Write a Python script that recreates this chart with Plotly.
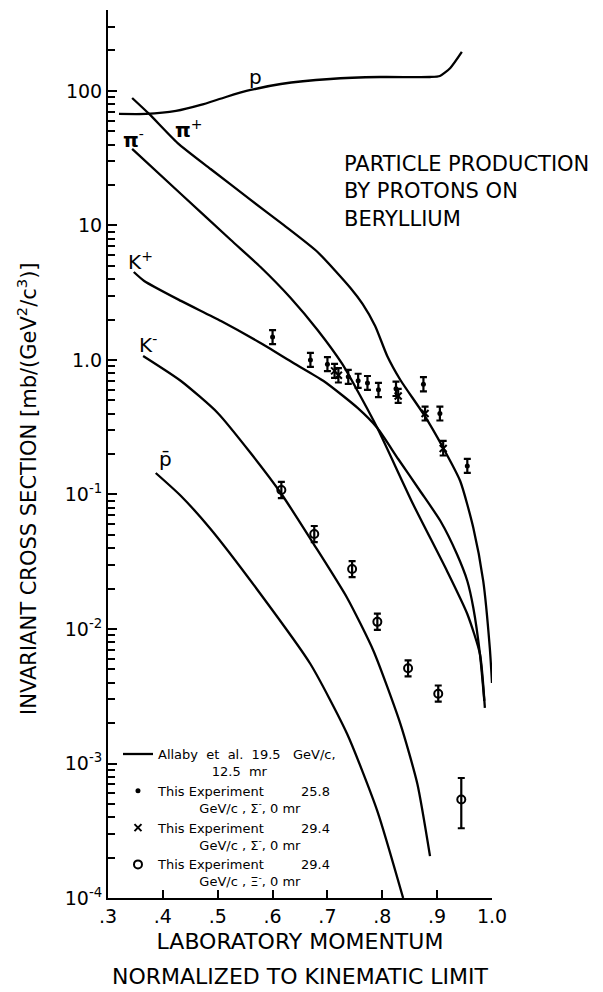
import math
import plotly.graph_objects as go

# ---------------- data ----------------
# Allaby et al. 19.5 GeV/c, 12.5 mr curves: x = p / p_max, y = invariant cross section
p_x = [0.320, 0.369, 0.424, 0.469, 0.515, 0.560, 0.615, 0.705, 0.796, 0.887, 0.905, 0.924, 0.945]
p_y = [67.5, 67.5, 71.0, 78.7, 90.2, 101.7, 112.7, 122.8, 127.0, 127.0, 129.3, 148.3, 195.1]

pip_x = [0.344, 0.375, 0.427, 0.487, 0.560, 0.620, 0.682, 0.742, 0.764, 0.787, 0.809, 0.833,
         0.875, 0.911, 0.942, 0.966, 0.984, 0.996, 1.000]
pip_y = [88.7, 67.5, 41.0, 26.3, 15.5, 10.1, 6.35, 3.43, 2.61, 1.79, 1.071, 0.710,
         0.397, 0.222, 0.126, 0.0564, 0.0228, 7.22e-3, 3.97e-3]

pim_x = [0.344, 0.433, 0.524, 0.578, 0.633, 0.682, 0.727, 0.755, 0.791, 0.856, 0.918,
         0.955, 0.978, 0.987]
pim_y = [37.1, 17.15, 7.80, 4.91, 2.89, 1.671, 0.934, 0.588, 0.312, 0.0850, 0.0270,
         0.01293, 6.52e-3, 2.59e-3]

kp_x = [0.347, 0.366, 0.433, 0.506, 0.578, 0.638, 0.693, 0.755, 0.791, 0.829, 0.869,
        0.906, 0.936, 0.955, 0.966, 0.978, 0.986]
kp_y = [4.51, 3.87, 2.75, 1.95, 1.338, 0.950, 0.698, 0.440, 0.312, 0.1836, 0.1062,
        0.0635, 0.0361, 0.02275, 0.01433, 6.52e-3, 2.92e-3]

km_x = [0.364, 0.433, 0.500, 0.560, 0.615, 0.675, 0.736, 0.784, 0.833, 0.864, 0.887]
km_y = [1.071, 0.698, 0.404, 0.2035, 0.1026, 0.0428, 0.0170, 6.86e-3, 1.97e-3, 7.04e-4, 2.05e-4]

pbar_x = [0.387, 0.433, 0.487, 0.578, 0.669, 0.736, 0.791, 0.838]
pbar_y = [0.1445, 0.0975, 0.0554, 0.0182, 5.49e-3, 1.657e-3, 4.43e-4, 1.0e-4]

# This experiment, 25.8 GeV/c, Sigma-, 0 mr (filled dots)
s258_x = [0.600, 0.669, 0.700, 0.738, 0.756, 0.773, 0.793, 0.825, 0.875, 0.905, 0.955]
s258_y = [1.48, 1.00, 0.93, 0.75, 0.70, 0.675, 0.60, 0.61, 0.66, 0.40, 0.163]
s258_hi = [1.67, 1.13, 1.05, 0.845, 0.79, 0.76, 0.675, 0.69, 0.745, 0.45, 0.184]
s258_lo = [1.31, 0.89, 0.825, 0.665, 0.62, 0.60, 0.53, 0.54, 0.585, 0.355, 0.145]

# This experiment, 29.4 GeV/c, Sigma-, 0 mr (crosses)
s294_x = [0.713, 0.720, 0.829, 0.878, 0.911]
s294_y = [0.83, 0.77, 0.54, 0.40, 0.22]
s294_hi = [0.935, 0.87, 0.61, 0.45, 0.25]
s294_lo = [0.735, 0.68, 0.48, 0.355, 0.195]

# This experiment, 29.4 GeV/c, Xi-, 0 mr (open circles)
xi_x = [0.616, 0.676, 0.745, 0.791, 0.847, 0.902, 0.944]
xi_y = [0.108, 0.0508, 0.0279, 0.0113, 5.1e-3, 3.3e-3, 5.4e-4]
xi_hi = [0.124, 0.0583, 0.032, 0.013, 5.85e-3, 3.8e-3, 7.8e-4]
xi_lo = [0.094, 0.0443, 0.0243, 9.85e-3, 4.45e-3, 2.88e-3, 3.3e-4]

x_ticks = [0.3, 0.4, 0.5, 0.6, 0.7, 0.8, 0.9, 1.0]
x_ticklabels = [".3", ".4", ".5", ".6", ".7", ".8", ".9", "1.0"]
y_ticks = [1e-4, 1e-3, 1e-2, 1e-1, 1, 10, 100]
y_ticklabels = ["10<sup>-4</sup>", "10<sup>-3</sup>", "10<sup>-2</sup>", "10<sup>-1</sup>",
                "1.0", "10", "100"]
y_top = 400

# particle labels: (text, x, y)
labels = [("p", 0.569, 127), ("<b>π</b><sup>+</sup>", 0.447, 52.2), ("<b>π</b><sup>-</sup>", 0.347, 44.0),
          ("K<sup>+</sup>", 0.360, 5.45), ("K<sup>-</sup>", 0.373, 1.315), ("p\u0304", 0.404, 0.1836)]

FONT = "DejaVu Sans"
NB = "\u00a0"

fig = go.Figure()
curve = dict(color="black", width=2.3, shape="spline", smoothing=0.6)

fig.add_trace(go.Scatter(x=pip_x, y=pip_y, mode="lines", line=curve,
                         name=("Allaby" + NB * 2 + "et" + NB * 2 + "al." + NB * 2 + "19.5" + NB * 3 +
                               "GeV/c,<br>" + NB * 13 + "12.5" + NB * 2 + "mr")))
for xs, ys in [(p_x, p_y), (pim_x, pim_y), (kp_x, kp_y), (km_x, km_y), (pbar_x, pbar_y)]:
    fig.add_trace(go.Scatter(x=xs, y=ys, mode="lines", line=curve, showlegend=False))


def err(y, hi, lo):
    return dict(type="data", symmetric=False,
                array=[h - v for v, h in zip(y, hi)],
                arrayminus=[v - l for v, l in zip(y, lo)],
                color="black", thickness=2.2, width=3.5)


def entry(energy, particle):
    return ("This" + NB + "Experiment" + NB * 9 + energy + "<br>" + NB * 10 +
            "GeV/c" + NB + "," + NB + particle + "<sup>-</sup>," + NB + "0" + NB + "mr")


fig.add_trace(go.Scatter(x=s258_x, y=s258_y, mode="markers",
                         marker=dict(symbol="circle", size=5, color="black"),
                         error_y=err(s258_y, s258_hi, s258_lo), name=entry("25.8", "Σ")))
fig.add_trace(go.Scatter(x=s294_x, y=s294_y, mode="markers",
                         marker=dict(symbol="x-thin", size=7, color="black", line=dict(width=2, color="black")),
                         error_y=err(s294_y, s294_hi, s294_lo), name=entry("29.4", "Σ")))
fig.add_trace(go.Scatter(x=xi_x, y=xi_y, mode="markers",
                         marker=dict(symbol="circle-open", size=8, color="black", line=dict(width=2, color="black")),
                         error_y=err(xi_y, xi_hi, xi_lo), name=entry("29.4", "Ξ")))

annotations = []
for txt, lx, ly in labels:
    annotations.append(dict(x=lx, y=math.log10(ly), xref="x", yref="y", text=txt, showarrow=False,
                            font=dict(family=FONT, size=20, color="black")))
annotations.append(dict(x=0.61, y=0.842, xref="paper", yref="paper", xanchor="left", yanchor="top",
                        align="left", showarrow=False,
                        text="PARTICLE PRODUCTION<br>BY PROTONS ON<br>BERYLLIUM",
                        font=dict(family=FONT, size=21, color="black")))
annotations.append(dict(x=0.5, y=-0.072, xref="paper", yref="paper", xanchor="center", yanchor="top",
                        showarrow=False, text="NORMALIZED TO KINEMATIC LIMIT",
                        font=dict(family=FONT, size=22, color="black")))
# y-axis title (placed as in the reference, slightly below the plot centre)
annotations.append(dict(x=-0.211, y=0.4617, xref="paper", yref="paper", xanchor="center", yanchor="middle",
                        textangle=-90, showarrow=False,
                        text="INVARIANT CROSS SECTION [mb/(GeV<sup>2</sup>/c<sup>3</sup>)]",
                        font=dict(family=FONT, size=21, color="black")))

y_minor = [k * 10 ** e for e in range(-4, 3) for k in range(2, 10) if k * 10 ** e <= y_top]

fig.update_layout(
    width=603, height=992,
    margin=dict(l=108, r=111, t=10, b=94),
    paper_bgcolor="white", plot_bgcolor="white",
    font=dict(family=FONT, color="black"),
    showlegend=True,
    legend=dict(x=0.026, y=0.179, xanchor="left", yanchor="top", bgcolor="rgba(0,0,0,0)",
                font=dict(family=FONT, size=13, color="black"), tracegroupgap=0, valign="top"),
    xaxis=dict(range=[0.3, 1.0], tickmode="array", tickvals=x_ticks, ticktext=x_ticklabels,
               ticks="inside", ticklen=8, tickwidth=2, tickcolor="black",
               showline=True, linecolor="black", linewidth=2, showgrid=False, zeroline=False,
               tickfont=dict(family=FONT, size=19, color="black"),
               title=dict(text="LABORATORY MOMENTUM", font=dict(family=FONT, size=22, color="black"),
                          standoff=8)),
    yaxis=dict(type="log", range=[-4, math.log10(y_top)], tickmode="array", tickvals=y_ticks,
               ticktext=y_ticklabels, ticks="inside", ticklen=9, tickwidth=2, tickcolor="black",
               showline=True, linecolor="black", linewidth=2, showgrid=False, zeroline=False,
               tickfont=dict(family=FONT, size=19, color="black"),
               minor=dict(tickvals=y_minor, ticks="inside", ticklen=7, tickwidth=1.8, tickcolor="black",
                          showgrid=False)),
    annotations=annotations,
)

fig.write_html("out.html")
